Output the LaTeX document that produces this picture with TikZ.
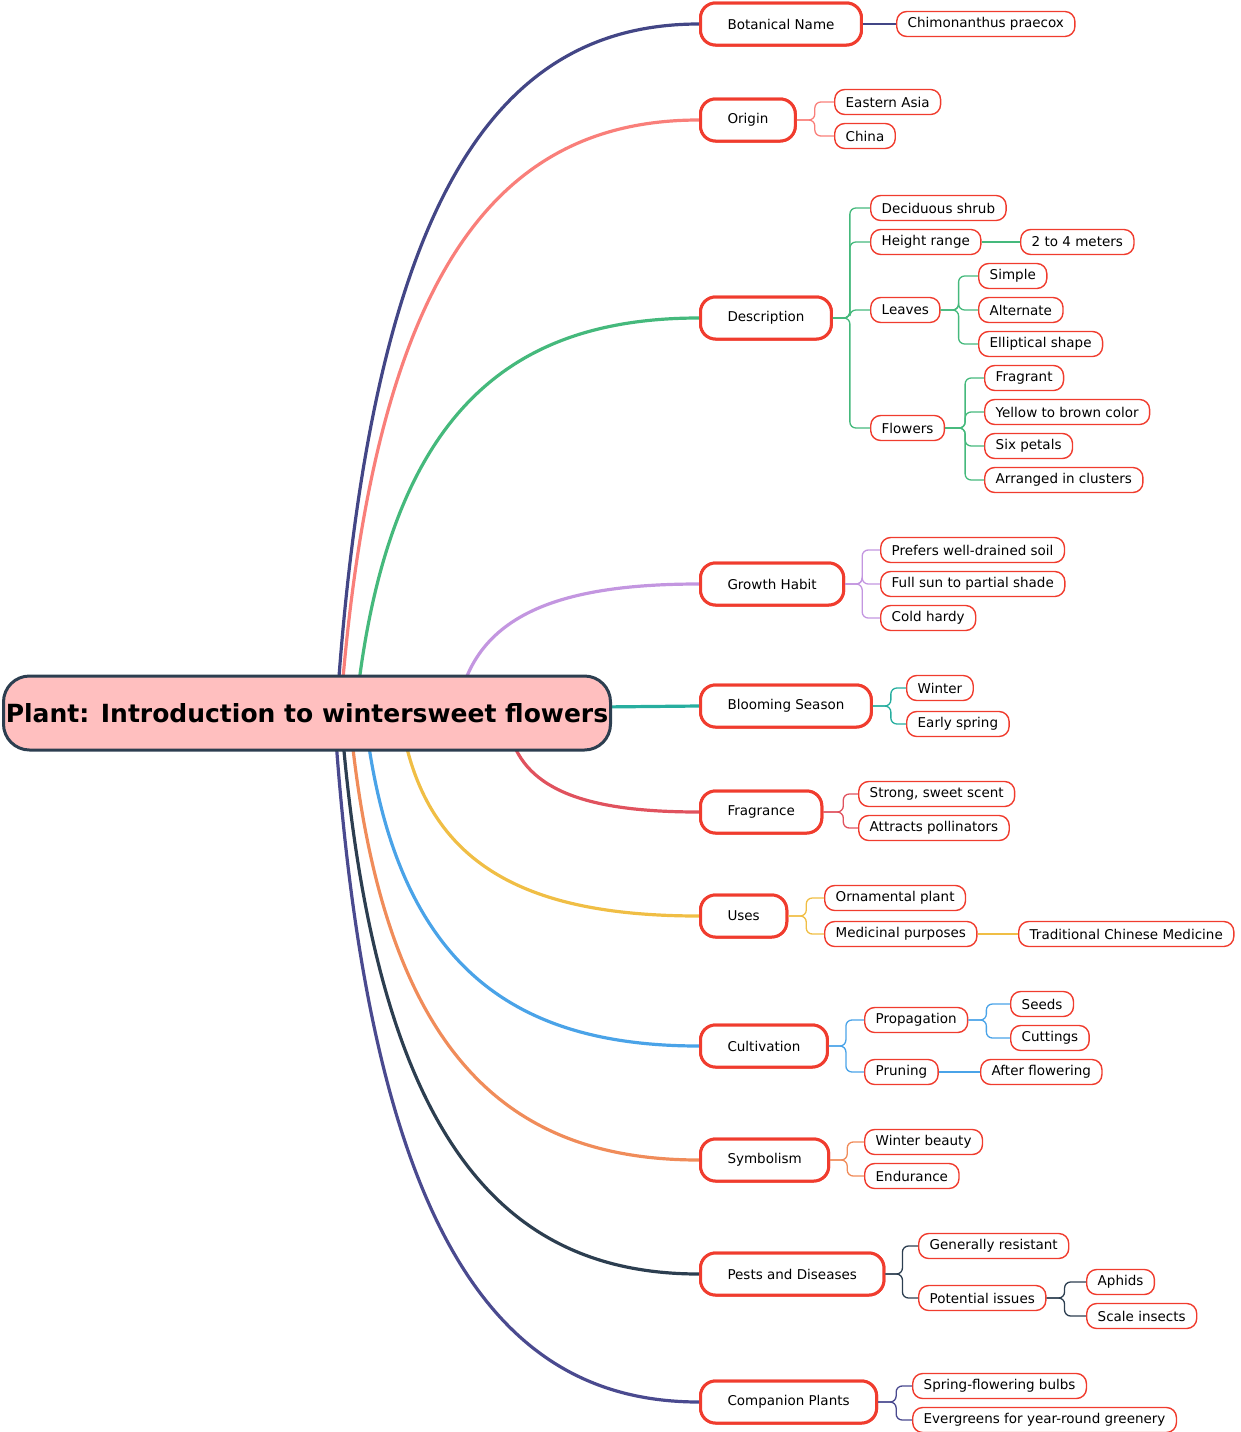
\documentclass[tikz,border=0pt]{standalone}
\usepackage{fontspec}
\setmainfont{DejaVu Sans}
\begin{document}
\begin{tikzpicture}[x=1pt,y=-1pt,
  root/.style={draw=rootb,line width=3,fill=rootf,rounded corners=26,minimum height=74,minimum width=607,font=\fontsize{25}{28}\selectfont\bfseries,inner sep=0},
  l1/.style={draw=redb,line width=3,fill=white,rounded corners=15,minimum height=42,inner xsep=27,anchor=west,font=\fontsize{13.5}{16}\selectfont},
  lf/.style={draw=redb,line width=1.4,fill=white,rounded corners=10,minimum height=25,inner xsep=11,anchor=west,font=\fontsize{13.5}{16}\selectfont},
  br/.style={line width=1.3,rounded corners=6},
  mb/.style={line width=3.2}]
\definecolor{rootb}{HTML}{2C3E50}\definecolor{rootf}{HTML}{FFBFBF}\definecolor{redb}{HTML}{F03C2E}
\definecolor{cA}{HTML}{434686}\definecolor{cB}{HTML}{F97F7A}\definecolor{cC}{HTML}{45B97C}
\definecolor{cD}{HTML}{C396E0}\definecolor{cE}{HTML}{27AE9F}\definecolor{cF}{HTML}{E0525E}
\definecolor{cG}{HTML}{F0BE45}\definecolor{cH}{HTML}{4AA3E8}\definecolor{cI}{HTML}{F08C5A}
\definecolor{cJ}{HTML}{2C3E50}\definecolor{cK}{HTML}{4A4A8F}
\useasboundingbox (0,0) rectangle (1240,1432);
% main curves (drawn first)
\newcommand\mc[5]{\draw[mb,#1] (#2,#3) .. controls ({#2+0.1*(699-#2)},{#3+0.75*(#5-#3)}) and ({#2+0.45*(699-#2)},#5) .. (#4.west);}
\node[l1] (bot) at (699,24) {Botanical Name};
\node[l1] (ori) at (699,120) {Origin};
\node[l1] (des) at (699,318) {Description};
\node[l1] (gro) at (699,584) {Growth Habit};
\node[l1] (blo) at (699,706) {Blooming Season};
\node[l1] (fra) at (699,812) {Fragrance};
\node[l1] (use) at (699,916) {Uses};
\node[l1] (cul) at (699,1046) {Cultivation};
\node[l1] (sym) at (699,1160) {Symbolism};
\node[l1] (pes) at (699,1274) {Pests and Diseases};
\node[l1] (com) at (699,1402) {Companion Plants};
\begin{scope}[on background layer/.style={}]
\mc{cA}{338}{690}{bot}{24}
\mc{cB}{342}{690}{ori}{120}
\mc{cC}{358}{690}{des}{318}
\mc{cD}{462}{690}{gro}{584}
\draw[mb,cE] (600,707) -- (blo.west);
\mc{cF}{512}{740}{fra}{812}
\mc{cG}{405}{740}{use}{916}
\mc{cH}{368}{740}{cul}{1046}
\mc{cI}{352}{740}{sym}{1160}
\mc{cJ}{343}{740}{pes}{1274}
\mc{cK}{336}{740}{com}{1402}
\end{scope}
\node[root] (r) at (307,713) {Plant: Introduction to wintersweet flowers};
% re-draw level1 nodes on top
\foreach \n/\y/\t in {bot/24/Botanical Name,ori/120/Origin,des/318/Description,gro/584/Growth Habit,blo/706/Blooming Season,fra/812/Fragrance,use/916/Uses,cul/1046/Cultivation,sym/1160/Symbolism,pes/1274/Pests and Diseases,com/1402/Companion Plants}
  \node[l1] at (699,\y) {\t};
% leaves
\node[lf] (a1) at (896,24) {Chimonanthus praecox};
\draw[br,cA] (bot.east) -- (a1.west);
\node[lf] (b1) at (834,102) {Eastern Asia};
\node[lf] (b2) at (834,136) {China};
\foreach \c in {b1,b2} \draw[br,cB] (ori.east) -- ++(18,0) |- (\c.west);
\node[lf] (c1) at (870,208) {Deciduous shrub};
\node[lf] (c2) at (870,242) {Height range};
\node[lf] (c3) at (870,310) {Leaves};
\node[lf] (c4) at (870,428) {Flowers};
\foreach \c in {c1,c2,c3,c4} \draw[br,cC] (des.east) -- ++(17,0) |- (\c.west);
\node[lf] (c21) at (1020,242) {2 to 4 meters};
\draw[br,cC] (c2.east) -- (c21.west);
\node[lf] (c31) at (978,276) {Simple};
\node[lf] (c32) at (978,310) {Alternate};
\node[lf] (c33) at (978,344) {Elliptical shape};
\foreach \c in {c31,c32,c33} \draw[br,cC] (c3.east) -- ++(18,0) |- (\c.west);
\node[lf] (c41) at (984,378) {Fragrant};
\node[lf] (c42) at (984,412) {Yellow to brown color};
\node[lf] (c43) at (984,446) {Six petals};
\node[lf] (c44) at (984,480) {Arranged in clusters};
\foreach \c in {c41,c42,c43,c44} \draw[br,cC] (c4.east) -- ++(20,0) |- (\c.west);
\node[lf] (d1) at (880,550) {Prefers well-drained soil};
\node[lf] (d2) at (880,584) {Full sun to partial shade};
\node[lf] (d3) at (880,618) {Cold hardy};
\foreach \c in {d1,d2,d3} \draw[br,cD] (gro.east) -- ++(17,0) |- (\c.west);
\node[lf] (e1) at (906,688) {Winter};
\node[lf] (e2) at (906,724) {Early spring};
\foreach \c in {e1,e2} \draw[br,cE] (blo.east) -- ++(18,0) |- (\c.west);
\node[lf] (f1) at (858,794) {Strong, sweet scent};
\node[lf] (f2) at (858,828) {Attracts pollinators};
\foreach \c in {f1,f2} \draw[br,cF] (fra.east) -- ++(20,0) |- (\c.west);
\node[lf] (g1) at (824,898) {Ornamental plant};
\node[lf] (g2) at (824,934) {Medicinal purposes};
\foreach \c in {g1,g2} \draw[br,cG] (use.east) -- ++(18,0) |- (\c.west);
\node[lf] (g21) at (1018,934) {Traditional Chinese Medicine};
\draw[br,cG] (g2.east) -- (g21.west);
\node[lf] (h1) at (864,1020) {Propagation};
\node[lf] (h2) at (864,1072) {Pruning};
\foreach \c in {h1,h2} \draw[br,cH] (cul.east) -- ++(17,0) |- (\c.west);
\node[lf] (h11) at (1010,1004) {Seeds};
\node[lf] (h12) at (1010,1038) {Cuttings};
\foreach \c in {h11,h12} \draw[br,cH] (h1.east) -- ++(18,0) |- (\c.west);
\node[lf] (h21) at (980,1072) {After flowering};
\draw[br,cH] (h2.east) -- (h21.west);
\node[lf] (i1) at (864,1142) {Winter beauty};
\node[lf] (i2) at (864,1176) {Endurance};
\foreach \c in {i1,i2} \draw[br,cI] (sym.east) -- ++(17,0) |- (\c.west);
\node[lf] (j1) at (918,1246) {Generally resistant};
\node[lf] (j2) at (918,1298) {Potential issues};
\foreach \c in {j1,j2} \draw[br,cJ] (pes.east) -- ++(17,0) |- (\c.west);
\node[lf] (j21) at (1086,1282) {Aphids};
\node[lf] (j22) at (1086,1316) {Scale insects};
\foreach \c in {j21,j22} \draw[br,cJ] (j2.east) -- ++(18,0) |- (\c.west);
\node[lf] (k1) at (912,1386) {Spring-flowering bulbs};
\node[lf] (k2) at (912,1420) {Evergreens for year-round greenery};
\foreach \c in {k1,k2} \draw[br,cK] (com.east) -- ++(18,0) |- (\c.west);
\end{tikzpicture}
\end{document}
